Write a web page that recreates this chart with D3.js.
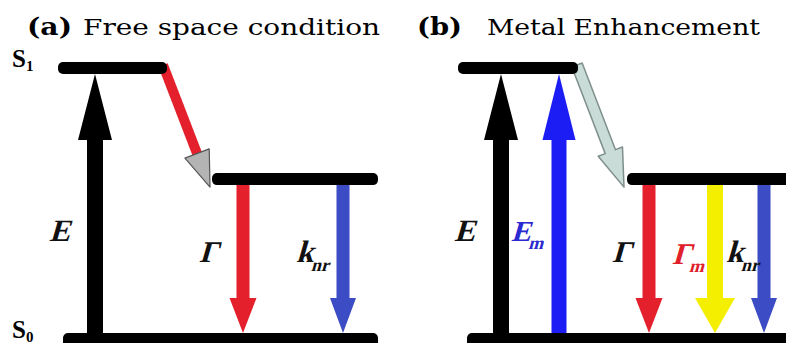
<!DOCTYPE html>
<html>
<head>
<meta charset="utf-8">
<script src="https://cdn.jsdelivr.net/npm/d3@7"></script>
<style>
  body { margin: 0; background: #fff; }
  svg { display: block; }
  .serif { font-family: "Liberation Serif", "Times New Roman", Times, serif; }
  .title { font-family: "DejaVu Serif", serif; }
</style>
</head>
<body>
<svg id="chart" width="786" height="343"></svg>
<script>
// energy levels (relative energy, S0 = 0, S1 = 1)
const levelNames = ["S0", "S1", "S1r"];
const levelEnergy = [0, 1, 0.59];

const panelIds = ["(a)", "(b)"];
const panelTitles = ["Free space condition", "Metal Enhancement"];

// transitions: from / to energy
const aNames = ["E", "relax", "Γ", "knr"];
const aFrom = [0, 1, 0.59, 0.59];
const aTo = [1, 0.59, 0, 0];

const bNames = ["E", "Em", "relax", "Γ", "Γm", "knr"];
const bFrom = [0, 0, 1, 0.59, 0.59, 0.59];
const bTo = [1, 1, 0.59, 0, 0, 0];

// label text (main, subscript)
const labelMain = { E: "E", Em: "E", "Γ": "Γ", "Γm": "Γ", knr: "k" };
const labelSub = { E: "", Em: "m", "Γ": "", "Γm": "m", knr: "nr" };

// ---- layout / styles (kept apart from the data) ----
const svg = d3.select("#chart");
const y = d3.scaleLinear().domain([0, 1]).range([339, 68]);

const layout = [
  {
    left: 58,
    levels: { S1: [0, 109], S1r: [154, 320], S0: [5, 320] },
    x: { E: 37, "Γ": 185, knr: 285 },
    relax: [105, 152],
    labelX: { E: -9, "Γ": 141, knr: 238 },
    titleX: 27, titleTextX: 83, titleLen: 297
  },
  {
    left: 458,
    levels: { S1: [0, 120], S1r: [169, 340], S0: [9, 340] },
    x: { E: 43, Em: 101, "Γ": 191, "Γm": 257, knr: 306 },
    relax: [119, 166],
    labelX: { E: -4, Em: 53, "Γ": 154, "Γm": 214, knr: 268 },
    titleX: 417, titleTextX: 487, titleLen: 273
  }
];

const arrowColor = { E: "#000", Em: "#1c1cf5", "Γ": "#e3202b", "Γm": "#f4ee00", knr: "#3b4cc4" };
const labelColor = { E: "#111", Em: "#2a2ad0", "Γ": "#111", "Γm": "#e0202a", knr: "#111" };
const shaftW = { E: 16, Em: 15, "Γ": 13, "Γm": 16, knr: 13 };
const headW = { E: 34, Em: 33, "Γ": 27, "Γm": 40, knr: 26 };

const line = d3.line();

function arrowParts(p0, p1, sw, hw, hl) {
  const dx = p1[0] - p0[0], dy = p1[1] - p0[1];
  const L = Math.hypot(dx, dy);
  const ux = dx / L, uy = dy / L, nx = -uy, ny = ux;
  const b = [p1[0] - ux * hl, p1[1] - uy * hl];
  const shaft = [
    [p0[0] + nx * sw / 2, p0[1] + ny * sw / 2],
    [b[0] + nx * sw / 2, b[1] + ny * sw / 2],
    [b[0] - nx * sw / 2, b[1] - ny * sw / 2],
    [p0[0] - nx * sw / 2, p0[1] - ny * sw / 2]
  ];
  const head = [
    [b[0] + nx * hw / 2, b[1] + ny * hw / 2],
    p1,
    [b[0] - nx * hw / 2, b[1] - ny * hw / 2]
  ];
  const whole = [shaft[0], shaft[1], head[0], head[1], head[2], shaft[2], shaft[3]];
  return { shaft, head, whole };
}

function drawPanel(i, names, from, to) {
  const lay = layout[i];
  const x = d3.scaleLinear().domain([0, 320]).range([lay.left, lay.left + 320]);
  const g = svg.append("g");
  const lvlY = name => y(levelEnergy[levelNames.indexOf(name)]);

  // vertical arrows
  names.forEach((n, k) => {
    if (n === "relax") return;
    const cx = x(lay.x[n]);
    const up = to[k] > from[k];
    const y0 = up ? y(from[k]) : y(from[k]) + 6;
    const y1 = up ? y(to[k]) + 6 : y(to[k]) - 6;
    const hl = up ? 66 : 35;
    const parts = arrowParts([cx, y0], [cx, y1], shaftW[n], headW[n], hl);
    g.append("path")
      .attr("d", line(parts.whole) + "Z")
      .attr("fill", arrowColor[n]);
  });

  // relaxation arrow S1 -> relaxed level
  const kr = names.indexOf("relax");
  const p0 = [x(lay.relax[0]), y(from[kr]) - 3];
  const p1 = [x(lay.relax[1]), y(to[kr]) + 8];
  if (i === 0) {
    const parts = arrowParts(p0, p1, 10, 26, 36);
    g.append("path").attr("d", line(parts.shaft) + "Z").attr("fill", "#e3202b");
    g.append("path").attr("d", line(parts.head) + "Z")
      .attr("fill", "#b4b4b4").attr("stroke", "#555").attr("stroke-width", 1.2)
      .attr("stroke-linejoin", "round");
  } else {
    const parts = arrowParts(p0, p1, 11, 26, 38);
    g.append("path").attr("d", line(parts.whole) + "Z")
      .attr("fill", "#c9dcd8").attr("stroke", "#7f8f8c").attr("stroke-width", 1.5)
      .attr("stroke-linejoin", "round");
  }

  // energy levels
  Object.entries(lay.levels).forEach(([name, ext]) => {
    g.append("rect")
      .attr("x", x(ext[0]))
      .attr("y", lvlY(name) - 6)
      .attr("width", x(ext[1]) - x(ext[0]))
      .attr("height", name === "S0" ? 16 : 12)
      .attr("rx", 5)
      .attr("fill", "#000");
  });

  // arrow labels: bold serif slanted by a skew (no italic serif face installed)
  names.forEach((n, k) => {
    if (n === "relax") return;
    const by = n === "E" || n === "Em" ? 241 : (n === "Γm" ? 264 : 262);
    const t = g.append("text")
      .attr("class", "serif")
      .attr("transform", `translate(${x(lay.labelX[n])},${by}) skewX(-16)`)
      .attr("font-weight", "bold")
      .attr("font-size", n === "Em" ? 29 : (n === "E" || n === "knr" ? 31 : 30))
      .attr("fill", labelColor[n])
      .text(labelMain[n]);
    if (labelSub[n]) {
      t.append("tspan")
        .attr("dy", n === "knr" ? 9 : 8)
        .attr("font-size", n === "knr" ? 18 : 18)
        .text(labelSub[n]);
    }
  });

  // title
  g.append("text")
    .attr("class", "title")
    .attr("x", lay.titleX).attr("y", 35)
    .attr("font-weight", "bold")
    .attr("font-size", 25)
    .attr("textLength", 45)
    .attr("lengthAdjust", "spacingAndGlyphs")
    .text(panelIds[i]);
  g.append("text")
    .attr("class", "title")
    .attr("x", lay.titleTextX).attr("y", 35)
    .attr("font-size", 22)
    .attr("textLength", lay.titleLen)
    .attr("lengthAdjust", "spacingAndGlyphs")
    .text(panelTitles[i]);
}

drawPanel(0, aNames, aFrom, aTo);
drawPanel(1, bNames, bFrom, bTo);

// state labels on the left
[["S", "1", 1, 67], ["S", "0", 0, 338]].forEach(([m, s, e, by]) => {
  const t = svg.append("text")
    .attr("class", "serif")
    .attr("x", 12)
    .attr("y", by)
    .attr("font-weight", "bold")
    .attr("font-size", 25)
    .attr("fill", "#000")
    .text(m);
  t.append("tspan").attr("dy", 4).attr("font-size", 15).text(s);
});
</script>
</body>
</html>
